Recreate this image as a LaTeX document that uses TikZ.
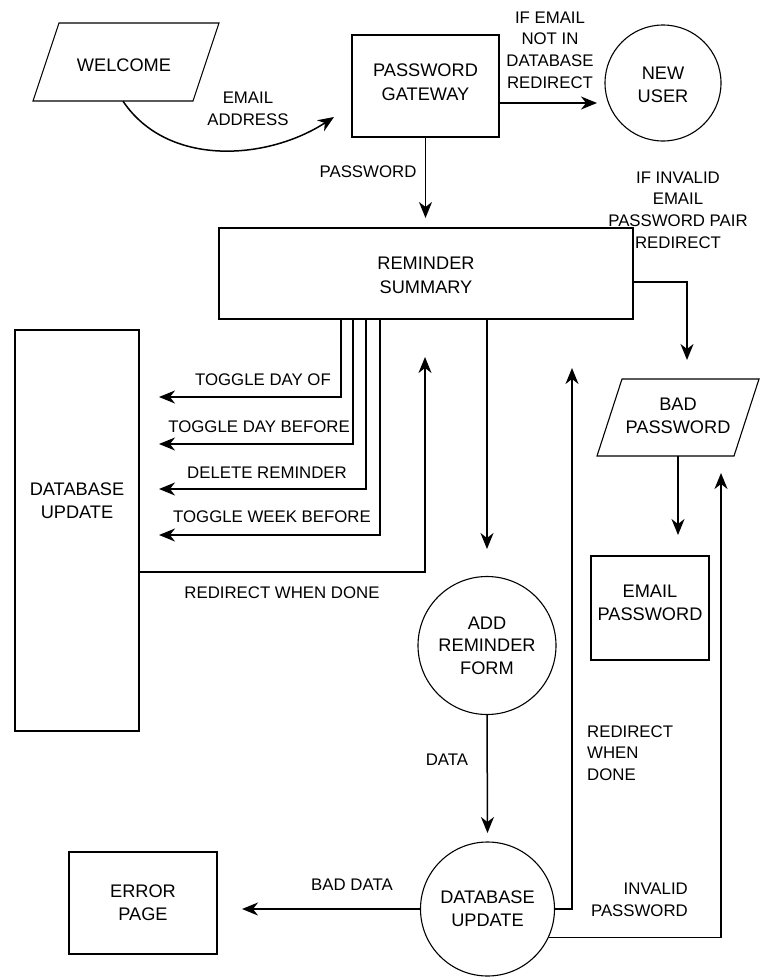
\documentclass[tikz,border=0pt]{standalone}
\usepackage{fontspec}
\setmainfont{Liberation Sans}
\usetikzlibrary{arrows.meta,calc}
\begin{document}
\begin{tikzpicture}[x=1pt,y=-1pt,
  every node/.style={font=\fontsize{16.8}{21.6}\selectfont, align=center, inner sep=0pt},
  ntxt/.style={font=\fontsize{18.2}{22.6}\selectfont},
  shp/.style={draw, line width=1.1pt},
  box/.style={shp, rectangle},
  circ/.style={shp, circle},
  arr/.style={line width=1.5pt, -{Stealth[length=16pt,width=13pt,inset=5pt]}}
]
\useasboundingbox (0,0) rectangle (762,977);

% ---------- nodes ----------
\node[minimum width=160, minimum height=78] (welcome) at (126,62) {};
\node[ntxt] (welcometxt) at (124,65) {WELCOME};
\draw[shp] (59,23) -- (219,23) -- (193,101) -- (33,101) -- cycle;

\node[box, minimum width=147, minimum height=102] (gw) at (425.5,86) {};
\node[ntxt, font=\fontsize{18.2}{24}\selectfont] (gwtxt) at (425.5,82) {PASSWORD\\GATEWAY};

\node[circ, minimum size=116] (nu) at (663,83) {};
\node[ntxt] (nutxt) at (663,85) {NEW\\USER};

\node[box, minimum width=414, minimum height=91] (rs) at (426,273.5) {};
\node[ntxt, font=\fontsize{18.2}{24}\selectfont] (rstxt) at (426,275) {REMINDER\\SUMMARY};

\node[box, minimum width=124, minimum height=401] (dbl) at (77,530.5) {};
\node[ntxt] (dbltxt) at (77,501) {DATABASE\\UPDATE};

\node[minimum width=137, minimum height=77] (bp) at (678,417.5) {};
\node[ntxt] (bptxt) at (678,416) {BAD\\PASSWORD};
\draw[shp] (622,379) -- (759,379) -- (734,456) -- (597,456) -- cycle;

\node[box, minimum width=118, minimum height=104] (ep) at (650,608) {};
\node[ntxt] (eptxt) at (650,603) {EMAIL\\PASSWORD};

\node[circ, minimum size=138] (ar) at (487,645.5) {};
\node[ntxt] (artxt) at (487,645.5) {ADD\\REMINDER\\FORM};

\node[circ, minimum size=134] (dbc) at (487.5,909) {};
\node[ntxt] (dbctxt) at (487.5,909) {DATABASE\\UPDATE};

\node[box, minimum width=148, minimum height=102] (ep2) at (143,903) {};
\node[ntxt] (ep2txt) at (143,903) {ERROR\\PAGE};

% ---------- free ends ----------
\coordinate (eaEnd) at (334,117);
\coordinate (nuEnd) at (597,103);
\coordinate (pwEnd) at (425.5,218);
\coordinate (bpEnd) at (687,360);
\coordinate (epEnd) at (678,535);
\coordinate (arEnd) at (487,549);
\coordinate (dbcEnd) at (487.5,833);
\coordinate (rdEnd) at (425,357);
\coordinate (rd2End) at (572,368);
\coordinate (ipEnd) at (721,473);
\coordinate (bdEnd) at (242,909);

% ---------- connectors ----------
\draw[arr] (welcome.south -| 123,0) .. controls (168,168) and (268,160) .. (eaEnd);
\draw[arr] (gw.east |- nuEnd) -- (nuEnd);
\draw[arr] (gw.south) -- (pwEnd);
\draw[arr] (rs.east |- 0,282) -| (bpEnd);
\draw[arr] (bp.south) -- (epEnd);
\draw[arr] (487,0 |- rs.south) -- (arEnd);
\draw[arr] (ar.south) -- (dbcEnd);

\draw[arr] (341,0 |- rs.south) |- (159,397);
\draw[arr] (353,0 |- rs.south) |- (159,444);
\draw[arr] (366,0 |- rs.south) |- (159,489);
\draw[arr] (380,0 |- rs.south) |- (159,535);

\draw[arr] (dbl.east |- 0,572) -| (rdEnd);
\draw[arr] (dbc.east) -| (rd2End);
\draw[arr] (dbc.-25.6) -| (ipEnd);
\draw[arr] (dbc.west) -- (bdEnd);

% ---------- labels ----------
\node (lEA) at (248,109) {EMAIL\\ADDRESS};
\node (lIE) at (550,50) {IF EMAIL\\NOT IN\\DATABASE\\REDIRECT};
\node (lPW) at (368,172) {PASSWORD};
\node (lII) at (678,210) {IF INVALID\\EMAIL\\PASSWORD PAIR\\REDIRECT};
\node[anchor=east] (lT1) at (331,380) {TOGGLE DAY OF};
\node[anchor=east] (lT2) at (350,427) {TOGGLE DAY BEFORE};
\node[anchor=east] (lT3) at (347,473) {DELETE REMINDER};
\node[anchor=east] (lT4) at (371,517) {TOGGLE WEEK BEFORE};
\node (lRW) at (282,593) {REDIRECT WHEN DONE};
\node (lDA) at (447,760) {DATA};
\node[anchor=west, align=left] (lRD) at (587,753) {REDIRECT\\WHEN\\DONE};
\node[anchor=east, align=right] (lIP) at (688,900) {INVALID\\PASSWORD};
\node (lBD) at (352,885) {BAD DATA};
\end{tikzpicture}
\end{document}
